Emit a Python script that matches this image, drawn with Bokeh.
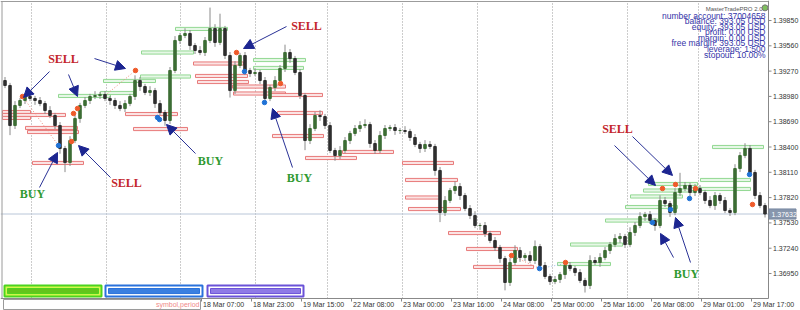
from bokeh.plotting import figure
from bokeh.models import Range1d, ColumnDataSource, Arrow, NormalHead
from bokeh.embed import file_html
from bokeh.resources import INLINE
from bokeh.core.properties import value

# ---------------- data ----------------
first_open = 1.39162
closes = [
    1.39105, 1.38646, 1.38876, 1.38933, 1.38979, 1.38956, 1.38933, 1.38898, 1.38818, 1.38761,
    1.38646, 1.38383, 1.38222, 1.38474, 1.38727, 1.38876, 1.38933, 1.38979, 1.38990, 1.39002,
    1.38956, 1.38933, 1.38876, 1.38841, 1.38898, 1.38979, 1.39162, 1.39093, 1.39025, 1.39047,
    1.38898, 1.38795, 1.38704, 1.39277, 1.39621, 1.39678, 1.39701, 1.39563, 1.39506, 1.39483,
    1.39621, 1.39758, 1.39598, 1.39758, 1.39449, 1.39047, 1.39334, 1.39449, 1.39277, 1.39242,
    1.39254, 1.39162, 1.38956, 1.39082, 1.39162, 1.39300, 1.39483, 1.39414, 1.39254, 1.38990,
    1.38474, 1.38612, 1.38761, 1.38749, 1.38646, 1.38360, 1.38302, 1.38360, 1.38474, 1.38555,
    1.38612, 1.38646, 1.38658, 1.38440, 1.38360, 1.38532, 1.38612, 1.38623, 1.38589, 1.38589,
    1.38578, 1.38509, 1.38429, 1.38383, 1.38429, 1.38406, 1.38131, 1.37649, 1.37787, 1.37901,
    1.37947, 1.37844, 1.37695, 1.37614, 1.37500, 1.37500, 1.37409, 1.37328, 1.37248, 1.37122,
    1.36847, 1.37076, 1.37214, 1.37133, 1.37156, 1.37099, 1.37259, 1.37042, 1.36916, 1.36858,
    1.36881, 1.36938, 1.37042, 1.37007, 1.36961, 1.36870, 1.36812, 1.37099, 1.37076, 1.37133,
    1.37214, 1.37282, 1.37351, 1.37374, 1.37282, 1.37420, 1.37500, 1.37603, 1.37626, 1.37557,
    1.37500, 1.37787, 1.37752, 1.37649, 1.37878, 1.37924, 1.37959, 1.37878, 1.37924, 1.37878,
    1.37787, 1.37729, 1.37844, 1.37787, 1.37672, 1.37649, 1.38153, 1.38302, 1.38383, 1.38108,
    1.37844, 1.37729, 1.37632,
]
up_wick = [  # pips
    4, 3, 5, 3, 4, 2, 3, 4, 3, 5,
    3, 4, 3, 5, 4, 3, 4, 3, 5, 3,
    4, 3, 3, 5, 4, 3, 6, 4, 3, 5,
    3, 4, 3, 4, 5, 3, 6, 4, 3, 5,
    4, 24, 5, 17, 3, 4, 5, 3, 4, 3,
    5, 3, 4, 3, 5, 4, 9, 4, 3, 4,
    3, 5, 4, 6, 3, 4, 3, 5, 4, 3,
    4, 5, 6, 3, 4, 5, 4, 3, 4, 3,
    5, 3, 4, 3, 5, 4, 3, 4, 5, 3,
    6, 4, 3, 4, 5, 3, 4, 3, 4, 3,
    3, 5, 6, 4, 3, 5, 7, 3, 4, 3,
    4, 3, 5, 4, 3, 4, 3, 6, 4, 5,
    4, 3, 5, 4, 3, 6, 4, 5, 3, 4,
    3, 6, 4, 3, 5, 18, 4, 3, 5, 4,
    3, 5, 4, 3, 4, 3, 5, 4, 6, 4,
    3, 4, 3,
]
dn_wick = [  # pips
    3, 11, 4, 3, 4, 3, 5, 3, 4, 3,
    4, 6, 11, 4, 3, 5, 3, 4, 3, 4,
    3, 5, 4, 3, 4, 3, 4, 5, 3, 4,
    5, 3, 6, 4, 3, 4, 3, 5, 4, 3,
    4, 3, 5, 3, 4, 8, 4, 3, 5, 4,
    3, 4, 6, 3, 4, 3, 4, 5, 3, 4,
    11, 4, 3, 5, 4, 3, 6, 4, 3, 4,
    3, 4, 3, 5, 4, 3, 4, 3, 5, 4,
    3, 4, 3, 5, 4, 3, 6, 11, 4, 3,
    4, 5, 3, 4, 3, 5, 4, 3, 4, 5,
    9, 4, 3, 5, 4, 3, 4, 5, 3, 4,
    3, 4, 5, 3, 4, 3, 8, 4, 3, 5,
    3, 4, 3, 5, 4, 3, 4, 3, 5, 4,
    6, 3, 4, 5, 3, 4, 3, 5, 4, 3,
    4, 3, 5, 4, 3, 4, 3, 4, 3, 5,
    4, 3, 4,
]
current_price = 1.37632

price_ticks = [1.39850, 1.39560, 1.39270, 1.38980, 1.38690, 1.38400,
               1.38110, 1.37820, 1.37530, 1.37240, 1.36950]
price_labels = ["1.39850", "1.39560", "1.39270", "1.38980", "1.38690", "1.38400",
                "1.38110", "1.37820", "1.37530", "1.37240", "1.36950"]
time_ticks = [39.3, 49.3, 59.3, 69.3, 79.3, 89.3, 99.3, 109.3, 119.3, 129.3, 139.3, 149.3]
time_labels = ["18 Mar 07:00", "18 Mar 23:00", "19 Mar 15:00", "22 Mar 08:00",
               "23 Mar 00:00", "23 Mar 16:00", "24 Mar 08:00", "25 Mar 00:00",
               "25 Mar 16:00", "26 Mar 08:00", "29 Mar 01:00", "29 Mar 17:00"]
grid_bars = [5.3, 20.3, 35.1, 50.1, 64.5, 79.5, 94.5, 109.5, 124.5, 138.7]

# order level boxes (start bar, end bar, price)
red_start = [37.7, 38.1, 38.5, 45.5, 45.7, 53.1, -0.5, -0.5, -0.5, 24.1, 4.1, 4.5, 25.7, 5.5,
             54.5, 53.5, 67.5, 60.1, 79.5, 80.1, 80.1, 80.7, 88.7, 92.3, 93.7]
red_end = [47.7, 48.5, 48.7, 56.1, 56.1, 63.5, 5.1, 12.1, 5.1, 34.5, 14.5, 14.7, 36.5, 15.7,
           63.5, 63.7, 77.7, 70.3, 89.7, 90.5, 87.1, 91.1, 99.1, 102.5, 105.7]
red_price = [1.39357, 1.39214, 1.39145, 1.39093, 1.39013, 1.38996, 1.38801, 1.38767, 1.38733,
             1.38778, 1.38618, 1.38572, 1.38606, 1.38217, 1.38790, 1.38526, 1.38343, 1.38274,
             1.38217, 1.38022, 1.37821, 1.37689, 1.37414, 1.37231, 1.37025]
green_start = [34.1, 27.3, 49.7, 49.7, 19.7, 27.1, 10.7, 19.1, 110.5, 113.1, 120.1, 124.1,
               125.1, 127.7, 128.7, 139.1, 137.1, 141.5]
green_end = [44.5, 37.7, 60.1, 59.7, 30.1, 37.1, 21.1, 25.7, 121.1, 123.5, 130.5, 134.5,
             135.5, 138.1, 138.5, 149.1, 149.1, 151.7]
green_price = [1.39753, 1.39483, 1.39397, 1.39306, 1.39157, 1.39208, 1.38985, 1.39019,
               1.37059, 1.37282, 1.37557, 1.37712, 1.37833, 1.37901, 1.37976, 1.38022,
               1.37919, 1.38400]

# trade points
sell_bar = [3.5, 13.3, 13.7, 14.5, 26.1, 46.3, 55.1, 101.3, 112.1, 131.5, 134.1, 138.1, 149.5]
sell_price = [1.38979, 1.38463, 1.38784, 1.38841, 1.39277, 1.39483, 1.39128, 1.37156,
              1.37076, 1.37924, 1.37970, 1.37924, 1.37741]
buy_bar = [10.7, 30.5, 30.9, 47.9, 51.9, 106.9, 129.5, 133.1, 136.9, 148.9]
buy_price = [1.38417, 1.38738, 1.38715, 1.39265, 1.38910, 1.37007, 1.37534, 1.37684,
             1.37810, 1.38085]

# signal labels
sig_text = ["SELL", "SELL", "SELL", "SELL", "BUY", "BUY", "BUY", "BUY"]
sig_bar = [11.7, 24.3, 60.3, 122.5, 5.5, 41.1, 58.9, 136.3]
sig_price = [1.39414, 1.37982, 1.39792, 1.38612, 1.37867, 1.38245, 1.38050, 1.36950]

# arrows
arr_x0 = [8.9, 12.7, 17.9, 6.9, 21.1, 38.1, 56.3, 57.5, 121.9, 125.5, 133.7, 137.1]
arr_y0 = [1.39265, 1.39231, 1.39414, 1.37936, 1.38050, 1.38325, 1.39781, 1.38165,
          1.38417, 1.38520, 1.37133, 1.37076]
arr_x1 = [3.7, 14.5, 24.1, 10.5, 14.7, 32.3, 47.7, 53.5, 130.1, 133.5, 131.1, 134.1]
arr_y1 = [1.38967, 1.38979, 1.39300, 1.38337, 1.38417, 1.38658, 1.39529, 1.38841,
          1.37959, 1.38074, 1.37409, 1.37592]

info_lines = ["number account: 37004658", "balance: 393.05 USD", "equity: 393.05 USD",
              "profit: 0.00 USD", "margin: 0.00 USD", "free margin: 393.05 USD",
              "leverage: 1:500", "stopout: 10.00%"]
info_y = [1.39907, 1.39840, 1.39781, 1.39714, 1.39655, 1.39588, 1.39518, 1.39449]

# ---------------- layout constants (bar / price coordinates) ----------------
X0, X1 = -0.9, 159.1            # whole canvas width in bar units
Y_TOP, Y_BOT = 1.400792, 1.365260  # whole canvas height in price units
X_AX = 152.7                    # price scale line
Y_AX = 1.366636                 # time scale line
PIP = 0.0001

p = figure(width=800, height=310, x_range=Range1d(X0, X1), y_range=Range1d(Y_BOT, Y_TOP),
           output_backend="svg", toolbar_location=None,
           x_axis_location=None, y_axis_location=None,
           min_border_left=0, min_border_right=0, min_border_top=0, min_border_bottom=0)
p.background_fill_color = "white"
p.border_fill_color = "white"
p.outline_line_color = None
p.grid.visible = False

# vertical dotted grid
p.segment(x0=grid_bars, y0=[Y_AX] * len(grid_bars), x1=grid_bars, y1=[1.40045] * len(grid_bars),
          line_color="#9a9a9a", line_dash="1 2", line_width=1)

# current price line
p.line([X0, X_AX], [current_price, current_price], line_color="#b9c6d8", line_width=1)

# order-level boxes
H = 0.00018
p.quad(left=red_start, right=red_end,
       top=[v + H for v in red_price], bottom=[v - H for v in red_price],
       fill_color="#fbe3e3", line_color="#e87a7a", line_width=1)
p.quad(left=green_start, right=green_end,
       top=[v + H for v in green_price], bottom=[v - H for v in green_price],
       fill_color="#e6f7e6", line_color="#92d892", line_width=1)

# trade dotted lines
p.line([3.5, 10.7], [1.38979, 1.38417], line_color="#f08a7a", line_dash="1 2")
p.line([20.5, 26.1], [1.39013, 1.39277], line_color="#f08a7a", line_dash="1 2")
p.line([101.3, 106.9], [1.37156, 1.37007], line_color="#f08a7a", line_dash="1 2")
p.line([106.9, 112.1], [1.37007, 1.37064], line_color="#9ab8e0", line_dash="1 2")

# candles
n = len(closes)
opens = [first_open] + closes[:-1]
idx = list(range(n))
highs = [max(o, c) + u * PIP for o, c, u in zip(opens, closes, up_wick)]
lows = [min(o, c) - d * PIP for o, c, d in zip(opens, closes, dn_wick)]
colors = ["#3d6e34" if c >= o else "#2f2f2f" for o, c in zip(opens, closes)]
src = ColumnDataSource(dict(x=idx, h=highs, l=lows,
                            top=[max(o, c) for o, c in zip(opens, closes)],
                            bot=[min(o, c) for o, c in zip(opens, closes)], col=colors))
p.segment(x0="x", y0="h", x1="x", y1="l", source=src, line_color="#8a8a8a", line_width=1)
p.vbar(x="x", top="top", bottom="bot", width=0.5, source=src,
       fill_color="col", line_color="col", line_width=1)

# trade dots
p.scatter(sell_bar, sell_price, size=4.5, fill_color="#ef5a2a", line_color="#ef5a2a")
p.scatter(buy_bar, buy_price, size=4.5, fill_color="#1f72d6", line_color="#1f72d6")

# arrows
asrc = ColumnDataSource(dict(x0=arr_x0, y0=arr_y0, x1=arr_x1, y1=arr_y1))
p.add_layout(Arrow(end=NormalHead(size=10, fill_color="#1c2590", line_color="#1c2590"),
                   x_start="x0", y_start="y0", x_end="x1", y_end="y1", source=asrc,
                   line_color="#2a3296", line_width=1))

# signal texts
sig_col = ["#c3262c" if t == "SELL" else "#2f9a30" for t in sig_text]
p.text(x=sig_bar, y=sig_price, text=sig_text, text_color=sig_col,
       text_font=value("Liberation Serif"), text_font_style="bold", text_font_size="12px",
       text_align="center", text_baseline="middle")

# info panel
p.text(x=[152.1] * len(info_lines), y=info_y, text=info_lines, text_color="#3535a8",
       text_font=value("Liberation Sans"), text_font_size="8.5px",
       text_align="right", text_baseline="middle")
p.text(x=[151.5], y=[1.39987], text=["MasterTradePRO 2.0"], text_color="#555555",
       text_font=value("Liberation Sans"), text_font_size="6px",
       text_align="right", text_baseline="middle")
p.scatter([152.0], [1.39995], size=6, fill_color="#7fbf5f", line_color="#777777")

# bottom buttons
btn_l = [-0.1, 20.1, 40.5]
btn_r = [19.3, 39.5, 59.7]
btn_line = ["#4cd41e", "#2a72dc", "#6a52d8"]
btn_gap = ["#d6f74e", "#ffffff", "#ffffff"]
btn_fill = ["#62c41c", "#3a7fe0", "#8f7ae6"]
p.quad(left=btn_l, right=btn_r, top=[1.36812] * 3, bottom=[1.36687] * 3,
       fill_color=btn_gap, line_color=btn_line, line_width=2)
p.quad(left=[b + 0.6 for b in btn_l], right=[b - 0.6 for b in btn_r],
       top=[1.36778] * 3, bottom=[1.36720] * 3,
       fill_color=btn_fill, line_color=btn_line, line_width=1)

# ---------------- scales (price on the right, time at the bottom) ----------------
p.quad(left=[X_AX], right=[X1], top=[Y_TOP], bottom=[Y_BOT], fill_color="white", line_color=None)
p.quad(left=[X0], right=[X1], top=[Y_AX], bottom=[Y_BOT], fill_color="white", line_color=None)
# frame lines
p.line([X0, X_AX], [1.40068, 1.40068], line_color="#9a9a9a", line_width=1)
p.line([-0.6, -0.6], [Y_AX, 1.40068], line_color="#9a9a9a", line_width=1)
p.line([X_AX, X_AX], [Y_AX, Y_TOP], line_color="#888888", line_width=1)
p.line([X0, X_AX], [Y_AX, Y_AX], line_color="#888888", line_width=1)

# price scale ticks and labels
p.segment(x0=[X_AX] * len(price_ticks), y0=price_ticks, x1=[X_AX + 0.6] * len(price_ticks),
          y1=price_ticks, line_color="#888888")
p.text(x=[X_AX + 0.9] * len(price_ticks), y=price_ticks, text=price_labels, text_color="#333333",
       text_font=value("Liberation Sans"), text_font_size="7px",
       text_align="left", text_baseline="middle")

# current price tag
p.quad(left=[X_AX + 0.1], right=[158.2], top=[current_price + 0.00058],
       bottom=[current_price - 0.00058], fill_color="#8796ad", line_color="#7a8aa2")
p.text(x=[X_AX + 0.6], y=[current_price], text=["1.37632"], text_color="white",
       text_font=value("Liberation Sans"), text_font_size="7px",
       text_align="left", text_baseline="middle")

# time scale ticks and labels
p.segment(x0=time_ticks, y0=[Y_AX] * len(time_ticks), x1=time_ticks,
          y1=[1.366291] * len(time_ticks), line_color="#888888")
p.text(x=[t + 0.3 for t in time_ticks], y=[1.365948] * len(time_ticks), text=time_labels,
       text_color="#333333", text_font=value("Liberation Sans"), text_font_size="7px",
       text_align="left", text_baseline="middle")

# symbol,period box
p.quad(left=[-0.3], right=[39.1], top=[1.366521], bottom=[1.365375],
       fill_color="white", line_color="#9a9a9a")
p.text(x=[38.9], y=[1.365948], text=["symbol,period"], text_color="#f08a8a",
       text_font=value("Liberation Sans"), text_font_size="7px",
       text_align="right", text_baseline="middle")

open("out.html", "w").write(file_html(p, INLINE))
